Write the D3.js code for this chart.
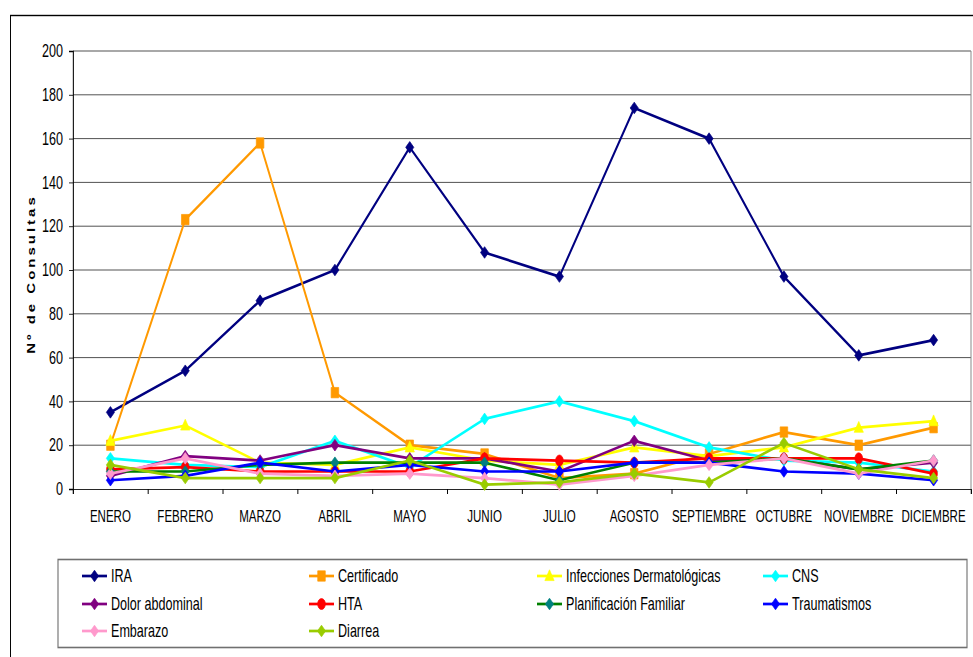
<!DOCTYPE html>
<html>
<head>
<meta charset="utf-8">
<script src="https://cdn.jsdelivr.net/npm/d3@7"></script>
<style>
  html, body { margin: 0; padding: 0; background: #fff; }
  svg { display: block; }
  text { font-family: "Liberation Sans", Arial, sans-serif; fill: #000; }
</style>
</head>
<body>
<svg id="chart"></svg>
<script>
// Monthly consultations by cause
const months = ["ENERO", "FEBRERO", "MARZO", "ABRIL", "MAYO", "JUNIO", "JULIO",
                "AGOSTO", "SEPTIEMBRE", "OCTUBRE", "NOVIEMBRE", "DICIEMBRE"];
const yTicks = [0, 20, 40, 60, 80, 100, 120, 140, 160, 180, 200];

const ira           = [35, 54, 86, 100, 156, 108, 97, 174, 160, 97, 61, 68];
const certificado   = [20, 123, 158, 44, 20, 16, 5, 7, 16, 26, 20, 28];
const infecciones   = [22, 29, 12, 11, 19, 13, 11, 19, 15, 19, 28, 31];
const cns           = [14, 11, 10, 22, 10, 32, 40, 31, 19, 13, 12, 8];
const dolor         = [6, 15, 13, 20, 14, 14, 8, 22, 13, 14, 9, 12];
const hta           = [9, 10, 8, 8, 8, 14, 13, 12, 14, 14, 14, 7];
const planificacion = [8, 8, 11, 12, 12, 12, 4, 12, 12, 14, 9, 13];
const traumatismos  = [4, 6, 12, 8, 11, 8, 8, 12, 12, 8, 7, 4];
const embarazo      = [7, 14, 7, 6, 7, 5, 2, 6, 11, 14, 7, 13];
const diarrea       = [11, 5, 5, 5, 13, 2, 3, 7, 3, 21, 9, 5];

const series = [
  { name: "IRA", values: ira, line: "#000080", fill: "#000080", marker: "diamond" },
  { name: "Certificado", values: certificado, line: "#FF9900", fill: "#FF9900", marker: "square" },
  { name: "Infecciones Dermatológicas", values: infecciones, line: "#FFFF00", fill: "#FFFF00", marker: "triangle" },
  { name: "CNS", values: cns, line: "#00FFFF", fill: "#00FFFF", marker: "diamond" },
  { name: "Dolor abdominal", values: dolor, line: "#800080", fill: "#800080", marker: "diamond" },
  { name: "HTA", values: hta, line: "#FF0000", fill: "#FF0000", marker: "circle" },
  { name: "Planificación Familiar", values: planificacion, line: "#008000", fill: "#008080", marker: "diamond" },
  { name: "Traumatismos", values: traumatismos, line: "#0000FF", fill: "#0000FF", marker: "diamond" },
  { name: "Embarazo", values: embarazo, line: "#FF99CC", fill: "#FF99CC", marker: "diamond" },
  { name: "Diarrea", values: diarrea, line: "#99CC00", fill: "#99CC00", marker: "diamond" }
];

// The drawing is laid out in a wider coordinate space and compressed horizontally
const SX = 0.7;
const PW = 973, PH = 657;
const W = PW / SX;
const px = v => v / SX;   // screen x -> drawing x

const svg = d3.select("#chart")
  .attr("width", PW).attr("height", PH)
  .attr("viewBox", `0 0 ${W} ${PH}`)
  .attr("preserveAspectRatio", "none");

// outer chart frame
svg.append("rect")
  .attr("x", px(10.5)).attr("y", 15.5)
  .attr("width", W).attr("height", PH)
  .attr("fill", "#fff").attr("stroke", "#000").attr("stroke-width", 1.4);

const plot = { left: px(73), right: px(971), top: 51, bottom: 489 };

const x = d3.scaleBand().domain(months).range([plot.left, plot.right]).padding(0);
const xc = m => x(m) + x.bandwidth() / 2;
const xEdge = d3.scaleLinear().domain([0, months.length]).range([plot.left, plot.right]);
const y = d3.scaleLinear().domain([0, 200]).range([plot.bottom, plot.top]);

// gridlines
svg.append("g").selectAll("line").data(yTicks.filter(d => d > 0)).join("line")
  .attr("x1", plot.left).attr("x2", plot.right)
  .attr("y1", d => y(d)).attr("y2", d => y(d))
  .attr("stroke", "#333").attr("stroke-width", 1);

// right border of plot area
svg.append("line")
  .attr("x1", plot.right).attr("x2", plot.right)
  .attr("y1", plot.top).attr("y2", plot.bottom)
  .attr("stroke", "#888").attr("stroke-width", 1.4);

// y axis
const yAxis = svg.append("g")
  .attr("transform", `translate(${plot.left},0)`)
  .call(d3.axisLeft(y).tickValues(yTicks).tickSize(px(4)).tickPadding(px(6)));
yAxis.select(".domain").attr("stroke", "#000").attr("stroke-width", 1.5);
yAxis.selectAll(".tick line").attr("stroke", "#000");
yAxis.selectAll(".tick text")
  .attr("font-size", 18).attr("fill", "#000")
  .style("font-family", '"Liberation Sans", Arial, sans-serif');

// x axis: boundary ticks
const xTickAxis = svg.append("g")
  .attr("transform", `translate(0,${plot.bottom})`)
  .call(d3.axisBottom(xEdge).tickValues(d3.range(0, months.length + 1)).tickSize(5).tickFormat(""));
xTickAxis.select(".domain").attr("stroke", "#000").attr("stroke-width", 1);
xTickAxis.selectAll(".tick line").attr("stroke", "#000").attr("stroke-width", 1.4);

// x axis: category labels
const xLabelAxis = svg.append("g")
  .attr("transform", `translate(0,${plot.bottom})`)
  .call(d3.axisBottom(x).tickSize(0).tickPadding(21));
xLabelAxis.select(".domain").remove();
xLabelAxis.selectAll(".tick text")
  .attr("font-size", 16.5).attr("fill", "#000")
  .style("font-family", '"Liberation Sans", Arial, sans-serif');

// y axis title
svg.append("text")
  .attr("transform", `translate(${px(35)},${274}) rotate(-90)`)
  .attr("text-anchor", "middle")
  .attr("font-size", 15).attr("font-weight", "bold")
  .attr("letter-spacing", 3)
  .text("Nº de Consultas");

// marker shapes
function markerPath(type) {
  if (type === "diamond") return "M0,-5.8L5.8,0L0,5.8L-5.8,0Z";
  if (type === "square") return "M-5.4,-5.2H5.4V5.2H-5.4Z";
  if (type === "triangle") return "M0,-6.2L6.6,4.6H-6.6Z";
  if (type === "circle") return d3.symbol(d3.symbolCircle, 95)();
  return "";
}

const lineGen = d3.line().x((d, i) => xc(months[i])).y(d => y(d));

series.forEach(s => {
  const g = svg.append("g");
  g.append("path")
    .attr("d", lineGen(s.values))
    .attr("fill", "none")
    .attr("stroke", s.line)
    .attr("stroke-width", 2.7)
    .attr("stroke-linejoin", "round");
  g.selectAll("path.mk").data(s.values).join("path")
    .attr("class", "mk")
    .attr("d", markerPath(s.marker))
    .attr("transform", (d, i) => `translate(${xc(months[i])},${y(d)})`)
    .attr("fill", s.fill)
    .attr("stroke", s.fill)
    .attr("stroke-width", 0.8);
});

// legend
svg.append("rect")
  .attr("x", px(58)).attr("y", 559.5)
  .attr("width", px(967) - px(58)).attr("height", 88)
  .attr("fill", "#fff").attr("stroke", "#707070").attr("stroke-width", 1.6);

const legendCols = [82, 309, 537, 763].map(px);
const legendRows = [576, 604, 631];
const legendLen = px(25);

series.forEach((s, i) => {
  const cx = legendCols[i % 4];
  const cy = legendRows[Math.floor(i / 4)];
  const g = svg.append("g").attr("transform", `translate(${cx},${cy})`);
  g.append("line")
    .attr("x1", 0).attr("x2", legendLen)
    .attr("stroke", s.line).attr("stroke-width", 2.7);
  g.append("path")
    .attr("d", markerPath(s.marker))
    .attr("transform", `translate(${legendLen / 2},0)`)
    .attr("fill", s.fill).attr("stroke", s.fill).attr("stroke-width", 0.8);
  g.append("text")
    .attr("x", legendLen + px(4)).attr("y", 0).attr("dy", "0.36em")
    .attr("font-size", 18)
    .text(s.name);
});
</script>
</body>
</html>
